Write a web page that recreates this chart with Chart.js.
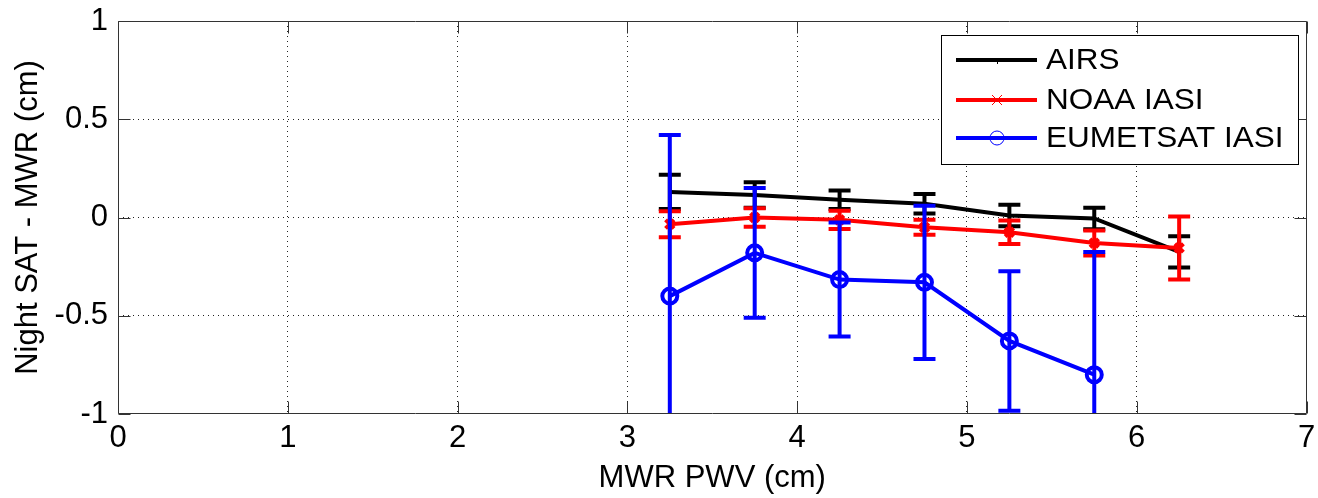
<!DOCTYPE html>
<html>
<head>
<meta charset="utf-8">
<script src="https://cdn.jsdelivr.net/npm/chart.js@4/dist/chart.umd.min.js"></script>
<style>
  html, body { margin: 0; padding: 0; background: #fff; }
  #wrap { width: 1318px; height: 498px; }
</style>
</head>
<body>
<div id="wrap"><canvas id="c" width="1318" height="498"></canvas></div>
<script>
// ---- data ----
const pwvBins = [3.25, 3.75, 4.25, 4.75, 5.25, 5.75, 6.25];
const airsMean = [0.13, 0.115, 0.09, 0.07, 0.01, -0.005, -0.175];
const airsErr  = [0.087, 0.065, 0.047, 0.05, 0.055, 0.055, 0.08];
const noaaMean = [-0.034, 0.0, -0.012, -0.05, -0.075, -0.13, -0.155];
const noaaErr  = [0.066, 0.047, 0.046, 0.038, 0.06, 0.064, 0.16];
const eumMean  = [-0.40, -0.18, -0.316, -0.33, -0.628, -0.80];
const eumErr   = [0.82, 0.33, 0.29, 0.39, 0.355, 0.625];
const seriesLabels = ['AIRS', 'NOAA IASI', 'EUMETSAT IASI'];
const xTickValues = [0, 1, 2, 3, 4, 5, 6, 7];
const yTickValues = [-1, -0.5, 0, 0.5, 1];
const xTitle = 'MWR PWV (cm)';
const yTitle = 'Night SAT - MWR (cm)';

const FONT = "'Liberation Sans', Arial, Helvetica, sans-serif";
const FS = 31;

function pts(xs, ys) { return ys.map((y, i) => ({ x: xs[i], y: y })); }

const errorBars = {
  id: 'errorBars',
  beforeDatasetDraw(chart, args) {
    const ds = chart.data.datasets[args.index];
    if (!ds.errors) return;
    const { ctx, chartArea: a } = chart;
    const xs = chart.scales.x, ys = chart.scales.y;
    ctx.save();
    ctx.beginPath();
    ctx.rect(a.left, a.top, a.right - a.left, a.bottom - a.top);
    ctx.clip();
    ctx.strokeStyle = ds.borderColor;
    ctx.lineWidth = 4;
    ctx.lineCap = 'butt';
    ds.data.forEach((p, i) => {
      const e = ds.errors[i];
      const px = xs.getPixelForValue(p.x);
      const yt = ys.getPixelForValue(p.y + e);
      const yb = ys.getPixelForValue(p.y - e);
      ctx.beginPath();
      ctx.moveTo(px, yt); ctx.lineTo(px, yb);
      ctx.moveTo(px - 11, yt); ctx.lineTo(px + 11, yt);
      ctx.moveTo(px - 11, yb); ctx.lineTo(px + 11, yb);
      ctx.stroke();
    });
    ctx.restore();
  }
};

const frame = {
  id: 'frame',
  afterDraw(chart) {
    const { ctx, chartArea: a } = chart;
    const xs = chart.scales.x, ys = chart.scales.y;
    ctx.save();
    ctx.strokeStyle = '#333';
    ctx.lineWidth = 1;
    const L = Math.round(a.left) + 0.5, R = Math.round(a.right) - 0.5;
    const T = Math.round(a.top) + 0.5, B = Math.round(a.bottom) - 0.5;
    ctx.beginPath();
    ctx.rect(L, T, R - L, B - T);
    xTickValues.forEach(v => {
      const px = Math.round(xs.getPixelForValue(v)) + 0.5;
      ctx.moveTo(px, B); ctx.lineTo(px, B - 12);
      ctx.moveTo(px, T); ctx.lineTo(px, T + 12);
    });
    yTickValues.forEach(v => {
      const py = Math.round(ys.getPixelForValue(v)) + 0.5;
      ctx.moveTo(L, py); ctx.lineTo(L + 12, py);
      ctx.moveTo(R, py); ctx.lineTo(R - 12, py);
    });
    ctx.stroke();

    // legend
    const bx = 941.5, by = 35.5, bw = 357, bh = 129;
    ctx.fillStyle = '#fff';
    ctx.fillRect(bx, by, bw, bh);
    ctx.strokeStyle = '#000';
    ctx.strokeRect(bx, by, bw, bh);
    const rows = [60, 100, 138];
    chart.data.datasets.forEach((ds, i) => {
      const y = rows[i];
      ctx.strokeStyle = ds.borderColor;
      ctx.lineWidth = 4;
      ctx.beginPath(); ctx.moveTo(956, y); ctx.lineTo(1037, y); ctx.stroke();
      ctx.lineWidth = 1;
      const cx = 997;
      if (i === 0) {
        ctx.beginPath(); ctx.moveTo(cx + 0.5, y); ctx.lineTo(cx + 0.5, y + 4); ctx.stroke();
      } else if (i === 1) {
        ctx.beginPath();
        ctx.moveTo(cx - 5, y - 5); ctx.lineTo(cx + 5, y + 5);
        ctx.moveTo(cx - 5, y + 5); ctx.lineTo(cx + 5, y - 5);
        ctx.stroke();
      } else {
        ctx.beginPath(); ctx.arc(cx, y, 7, 0, Math.PI * 2); ctx.stroke();
      }
      ctx.fillStyle = '#000';
      ctx.font = '30px ' + FONT;
      ctx.textBaseline = 'middle';
      ctx.textAlign = 'left';
      ctx.save();
      ctx.translate(1046, y + 1);
      ctx.scale(1.05, 1);
      ctx.fillText(ds.label, 0, 0);
      ctx.restore();
    });
    ctx.restore();
  }
};

const gridColor = (lo, hi) => (c) =>
  (c.tick && (c.tick.value === lo || c.tick.value === hi)) ? 'rgba(0,0,0,0)' : '#222';

new Chart(document.getElementById('c'), {
  type: 'scatter',
  data: {
    datasets: [
      {
        label: seriesLabels[0], data: pts(pwvBins, airsMean), errors: airsErr,
        borderColor: '#000000', backgroundColor: '#000000', showLine: true,
        borderWidth: 4, pointRadius: 0, tension: 0, order: 3
      },
      {
        label: seriesLabels[1], data: pts(pwvBins, noaaMean), errors: noaaErr,
        borderColor: '#ff0000', backgroundColor: '#ff0000', showLine: true,
        borderWidth: 4, pointStyle: 'crossRot', pointRadius: 6, pointBorderWidth: 4,
        pointBorderColor: '#ff0000', tension: 0, order: 2
      },
      {
        label: seriesLabels[2], data: pts(pwvBins, eumMean), errors: eumErr,
        borderColor: '#0000ff', backgroundColor: 'rgba(0,0,0,0)', showLine: true,
        borderWidth: 4, pointStyle: 'circle', pointRadius: 7.5, pointBorderWidth: 4,
        pointBorderColor: '#0000ff', pointBackgroundColor: 'rgba(0,0,0,0)',
        tension: 0, order: 1
      }
    ]
  },
  options: {
    responsive: false,
    animation: false,
    devicePixelRatio: 1,
    layout: { padding: { left: 0, right: 9, top: 21, bottom: 0 } },
    plugins: { legend: { display: false }, tooltip: { enabled: false } },
    scales: {
      x: {
        type: 'linear', min: 0, max: 7,
        afterFit(s) { s.height = 84; s.paddingLeft = 0; s.paddingRight = 0; },
        afterBuildTicks(s) { s.ticks = xTickValues.map(v => ({ value: v })); },
        ticks: { color: '#000', font: { family: FONT, size: FS }, padding: 6,
                 maxRotation: 0, autoSkip: false, callback: v => String(v) },
        grid: { color: gridColor(0, 7), lineWidth: 1, drawTicks: false },
        border: { display: false, dash: [1, 4] },
        title: { display: true, text: xTitle, color: '#000',
                 font: { family: FONT, size: FS }, padding: { top: 0, bottom: 1 } }
      },
      y: {
        type: 'linear', min: -1, max: 1,
        afterFit(s) { s.width = 118; s.paddingTop = 0; s.paddingBottom = 0; },
        afterBuildTicks(s) { s.ticks = yTickValues.map(v => ({ value: v })); },
        ticks: { color: '#000', font: { family: FONT, size: FS }, padding: 10,
                 autoSkip: false, callback: v => String(v) },
        grid: { color: gridColor(-1, 1), lineWidth: 1, drawTicks: false },
        border: { display: false, dash: [1, 4] },
        title: { display: true, text: yTitle, color: '#000',
                 font: { family: FONT, size: FS }, padding: { top: 10, bottom: 0 } }
      }
    }
  },
  plugins: [errorBars, frame]
});
</script>
</body>
</html>
